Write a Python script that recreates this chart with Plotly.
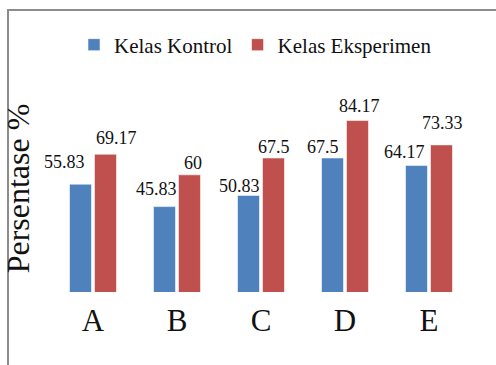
import plotly.graph_objects as go

# Data
categories = ["A", "B", "C", "D", "E"]
kontrol = [55.83, 45.83, 50.83, 67.5, 64.17]
eksperimen = [69.17, 60, 67.5, 84.17, 73.33]

# Label placement (pixel offsets from category centre / value)
kontrol_dx = [-28.5, -20.3, -22, -21.75, -24.75]
kontrol_dy = [21.7, 17.9, 9.4, 11, 13.7]
eksperimen_dx = [23.5, 16, 13, 14.25, 13.75]
eksperimen_dy = [16.2, 11.5, 10.5, 14.5, 21.6]

W, H = 496, 365
L, R, T, B = 51, 25, 85, 73
pw, ph = W - L - R, H - T - B

BLUE = "#4F81BD"
RED = "#C0504D"
FONT = "Liberation Serif, serif"

fig = go.Figure()
fig.add_trace(go.Bar(
    name="Kelas Kontrol", x=categories, y=kontrol,
    marker=dict(color=BLUE, line=dict(color="rgba(255,255,255,0.55)", width=1)),
))
fig.add_trace(go.Bar(
    name="Kelas Eksperimen", x=categories, y=eksperimen,
    marker=dict(color=RED, line=dict(color="rgba(255,255,255,0.55)", width=1)),
))

annotations = []
for cat, v, dx, dy in zip(categories, kontrol, kontrol_dx, kontrol_dy):
    annotations.append(dict(x=cat, y=v, text=f"{v:g}", showarrow=False,
                            xshift=dx, yshift=dy, yanchor="middle",
                            font=dict(family=FONT, size=18, color="#111")))
for cat, v, dx, dy in zip(categories, eksperimen, eksperimen_dx, eksperimen_dy):
    annotations.append(dict(x=cat, y=v, text=f"{v:g}", showarrow=False,
                            xshift=dx, yshift=dy, yanchor="middle",
                            font=dict(family=FONT, size=18, color="#111")))

# Outer frame (left and top edges)
def px_x(p):
    return (p - L) / pw

def px_y(p):
    return (H - B - p) / ph

frame = dict(
    type="path", xref="paper", yref="paper",
    path=f"M {px_x(8)} {px_y(370)} L {px_x(8)} {px_y(10)} L {px_x(500)} {px_y(10)}",
    line=dict(color="#8c8c8c", width=2),
)

fig.update_layout(
    template="none",
    width=W, height=H,
    margin=dict(l=L, r=R, t=T, b=B, autoexpand=False),
    paper_bgcolor="white", plot_bgcolor="white",
    barmode="group", bargap=0.405, bargroupgap=0.12,
    font=dict(family=FONT, color="#111"),
    showlegend=True,
    legend=dict(orientation="h", xref="container", yref="container",
                x=74 / W, y=1 - 45 / H, xanchor="left", yanchor="middle",
                font=dict(family=FONT, size=21, color="#111"),
                bgcolor="rgba(0,0,0,0)", itemwidth=30, tracegroupgap=0),
    xaxis=dict(showline=False, showgrid=False, zeroline=False, ticks="",
               tickfont=dict(family=FONT, size=31, color="#111"),
               ticklabelstandoff=7, range=[-0.5, 4.5]),
    yaxis=dict(range=[7.8, 100], showline=False, showgrid=False, zeroline=False,
               showticklabels=False, ticks="",
               title=dict(text="Persentase %", standoff=12,
                          font=dict(family=FONT, size=32, color="#111"))),
    annotations=annotations,
    shapes=[frame],
)

fig.write_html("out.html")
